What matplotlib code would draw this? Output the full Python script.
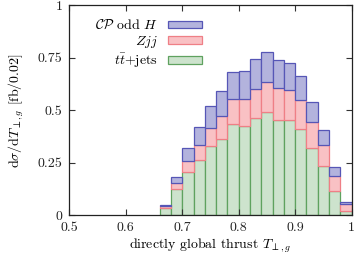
import matplotlib
matplotlib.use("Agg")
import matplotlib.pyplot as plt
import numpy as np

plt.rcParams['mathtext.fontset'] = 'cm'
plt.rcParams['font.family'] = ['cmr10', 'DejaVu Serif']
plt.rcParams['axes.formatter.use_mathtext'] = True

bin_edges = [0.66, 0.68, 0.70, 0.72, 0.74, 0.76, 0.78, 0.80, 0.82, 0.84,
             0.86, 0.88, 0.90, 0.92, 0.94, 0.96, 0.98]
# cumulative tops
ttbar = [0.033, 0.124, 0.205, 0.262, 0.328, 0.362, 0.433, 0.424, 0.462, 0.492,
         0.454, 0.452, 0.409, 0.322, 0.236, 0.116, 0.019]
zjj_top = [0.044, 0.155, 0.260, 0.333, 0.417, 0.471, 0.552, 0.552, 0.600, 0.636,
           0.605, 0.595, 0.549, 0.443, 0.333, 0.187, 0.053]
cph_top = [0.050, 0.184, 0.319, 0.419, 0.519, 0.590, 0.681, 0.686, 0.743, 0.778,
           0.738, 0.724, 0.663, 0.540, 0.406, 0.229, 0.066]

zjj = np.array(zjj_top) - np.array(ttbar)
cph = np.array(cph_top) - np.array(zjj_top)

labels = [r'$\mathcal{CP}$ odd $H$', r'$Zjj$', r'$t\bar{t}$+jets']
xticks = [0.5, 0.6, 0.7, 0.8, 0.9, 1.0]
xticklabels = ['0.5', '0.6', '0.7', '0.8', '0.9', '1']
yticks = [0, 0.25, 0.5, 0.75, 1.0]
yticklabels = ['0', '0.25', '0.5', '0.75', '1']

fig = plt.figure(figsize=(3.57, 2.57), dpi=100)
ax = fig.add_axes([0.194, 0.162, 0.791, 0.817])

w = 0.02
b1 = ax.bar(bin_edges, ttbar, width=w, align='edge', color='#cde3cd',
            edgecolor='#5fa25f', linewidth=0.9)
b2 = ax.bar(bin_edges, zjj, width=w, align='edge', bottom=ttbar, color='#f9c1c4',
            edgecolor='#ef7f86', linewidth=0.9)
b3 = ax.bar(bin_edges, cph, width=w, align='edge', bottom=zjj_top, color='#b3b3dd',
            edgecolor='#5656b6', linewidth=0.9)

ax.set_xlim(0.5, 1.0)
ax.set_ylim(0, 1.0)
ax.set_xticks(xticks)
ax.set_xticklabels(xticklabels)
ax.set_yticks(yticks)
ax.set_yticklabels(yticklabels)
ax.tick_params(direction='in', top=True, right=True, length=4, width=0.8,
               labelsize=10, pad=5, colors='#333333', labelcolor='#222222')
for s in ax.spines.values():
    s.set_linewidth(0.9)
    s.set_color('#222222')

ax.set_xlabel(r'directly global thrust $T_{\perp,g}$', fontsize=10, labelpad=2)
ax.set_ylabel(r'd$\sigma$/d$T_{\perp,g}$ [fb/0.02]', fontsize=10, labelpad=8)

leg = ax.legend([b3, b2, b1], labels, loc='upper right', frameon=False,
                markerfirst=False, fontsize=10, handlelength=2.45, handleheight=0.45,
                labelspacing=0.12, borderaxespad=0.0, borderpad=0.0,
                bbox_to_anchor=(0.469, 0.935), handletextpad=0.72)
for t in leg.get_texts():
    t.set_ha('right')
leg._legend_box.align = 'right'

fig.savefig('out.png', dpi=100)
